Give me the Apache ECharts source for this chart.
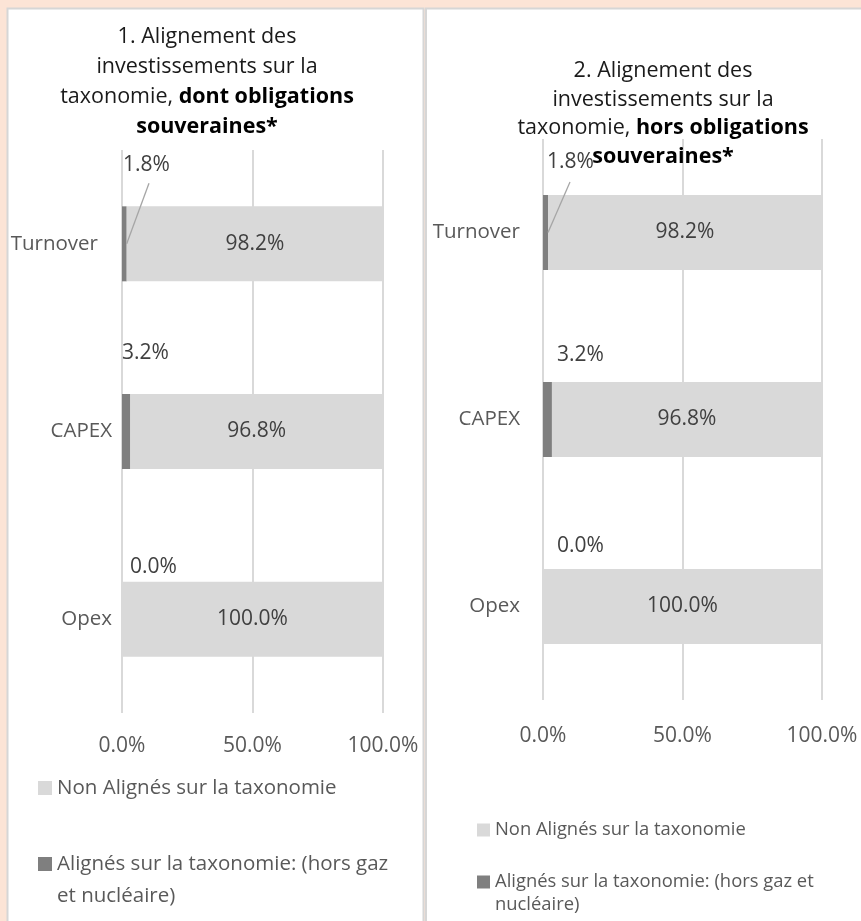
<!DOCTYPE html>
<html>
<head>
<meta charset="utf-8">
<script src="https://cdn.jsdelivr.net/npm/echarts@6/dist/echarts.min.js"></script>
<style>
  html, body { margin: 0; padding: 0; background: #fce4d6; }
  #chart { width: 861px; height: 921px; }
</style>
</head>
<body>
<div id="chart"></div>
<script>
// données
const categories = ['Turnover', 'CAPEX', 'Opex'];
const alignedWithSov = [1.8, 3.2, 0.0];
const notAlignedWithSov = [98.2, 96.8, 100.0];
const alignedExSov = [1.8, 3.2, 0.0];
const notAlignedExSov = [98.2, 96.8, 100.0];
const axisMin = 0, axisMax = 100, axisStep = 50;

const nameNotAligned = 'Non Alignés sur la taxonomie';
const nameAligned = 'Alignés sur la taxonomie: (hors gaz et nucléaire)';
const title1 = '1. Alignement des\ninvestissements sur la\ntaxonomie, {b|dont obligations}\n{b|souveraines*}';
const title2 = '2. Alignement des\ninvestissements sur la\ntaxonomie, {b|hors obligations}\n{b|souveraines*}';

const FONT = '"Open Sans", sans-serif';
const LIGHT = '#d9d9d9', DARK = '#7f7f7f', TXT = '#404040', AX = '#595959';
const BAR_W = 75;

const pct = v => Number(v).toFixed(1) + '%';

// position des étiquettes "alignés" par rapport à la barre
function darkLabelLayout(offsets) {
  return function (p) {
    const r = p.rect, o = offsets[p.dataIndex];
    return { x: r.x + o[0], y: r.y + o[1], align: 'left', verticalAlign: 'middle' };
  };
}

function xAxisFor(gridIndex, margin) {
  return {
    gridIndex, type: 'value', min: axisMin, max: axisMax, interval: axisStep,
    axisLine: { show: false }, axisTick: { show: false },
    axisLabel: { formatter: pct, color: AX, fontFamily: FONT, fontSize: 21, margin },
    splitLine: { show: true, lineStyle: { color: LIGHT, width: 2 } }
  };
}

function yAxisFor(gridIndex, margin, turnoverShift) {
  return {
    gridIndex, type: 'category', inverse: true, data: categories,
    axisLine: { show: false }, axisTick: { show: false },
    axisLabel: {
      color: AX, fontFamily: FONT, fontSize: 20.5, margin,
      formatter: v => v === 'Turnover' ? '{s|' + v + '}' : v,
      rich: { s: { color: AX, fontFamily: FONT, fontSize: 20.5, padding: [0, turnoverShift, 0, 0] } }
    }
  };
}

// trait de rappel entre l'étiquette et la barre Turnover
function leaderSeries(idx, aligned, start) {
  return {
    type: 'custom', xAxisIndex: idx, yAxisIndex: idx, z: 5, silent: true,
    data: [[aligned[0], 0]],
    encode: { x: 0, y: 1 },
    renderItem: function (params, api) {
      const end = api.coord([api.value(0), api.value(1)]);
      const base = api.coord([axisMin, api.value(1)]);
      return {
        type: 'line',
        shape: { x1: base[0] + start[0], y1: end[1] - BAR_W / 2 + start[1], x2: end[0], y2: end[1] },
        style: { stroke: '#a6a6a6', lineWidth: 1.3 }
      };
    }
  };
}

function seriesFor(idx, aligned, notAligned, offsets, lineStart) {
  return [
    {
      name: nameAligned, type: 'bar', stack: 's' + idx, xAxisIndex: idx, yAxisIndex: idx,
      barWidth: BAR_W, data: aligned, itemStyle: { color: DARK },
      label: { show: true, position: 'top', formatter: p => pct(p.value), color: TXT, fontFamily: FONT, fontSize: 21 },
      labelLayout: darkLabelLayout(offsets)
    },
    {
      name: nameNotAligned, type: 'bar', stack: 's' + idx, xAxisIndex: idx, yAxisIndex: idx,
      barWidth: BAR_W, data: notAligned, itemStyle: { color: LIGHT },
      label: { show: true, position: 'inside', formatter: p => pct(p.value), color: TXT, fontFamily: FONT, fontSize: 21 }
    },
    leaderSeries(idx, aligned, lineStart)
  ];
}

// une légende par entrée; pour le texte sur deux lignes, une ligne vide en tête
// garde l'icône en face de la première ligne
function legendFor(name, left, top, fontSize, icon, lh, wordsOnFirstLine) {
  const leg = {
    data: [name], left, top, padding: 0, orient: 'vertical',
    icon: 'rect', itemWidth: icon, itemHeight: icon,
    textStyle: { color: AX, fontFamily: FONT, fontSize, lineHeight: lh }
  };
  if (wordsOnFirstLine) {
    leg.formatter = n => {
      const w = n.split(' ');
      return '\n' + w.slice(0, wordsOnFirstLine).join(' ') + '\n' + w.slice(wordsOnFirstLine).join(' ');
    };
  }
  return leg;
}

const chart = echarts.init(document.getElementById('chart'));
chart.setOption({
  animation: false,
  backgroundColor: '#fce4d6',
  graphic: [
    { type: 'rect', z: -10, silent: true, shape: { x: 7.5, y: 8.5, width: 416, height: 930 },
      style: { fill: '#fff', stroke: '#d6d6d6', lineWidth: 2 } },
    { type: 'rect', z: -10, silent: true, shape: { x: 426, y: 8.5, width: 450, height: 930 },
      style: { fill: '#fff', stroke: '#d6d6d6', lineWidth: 2 } },
    { type: 'text', z: 50, x: 207, y: 22.5,
      style: { text: title1, fill: '#1a1a1a', font: '21.5px ' + FONT, align: 'center', verticalAlign: 'top', lineHeight: 29.7,
        rich: { b: { fontWeight: 'bold', fontSize: 21.5, fontFamily: FONT, fill: '#000', lineHeight: 29.7 } } } },
    { type: 'text', z: 50, x: 663, y: 57,
      style: { text: title2, fill: '#1a1a1a', font: '21.5px ' + FONT, align: 'center', verticalAlign: 'top', lineHeight: 28.5,
        rich: { b: { fontWeight: 'bold', fontSize: 21.5, fontFamily: FONT, fill: '#000', lineHeight: 28.5 } } } }
  ],
  legend: [
    legendFor(nameNotAligned, 38, 775, 20.5, 14, 26),
    legendFor(nameAligned, 38, 816, 20.5, 14, 32, 6),
    legendFor(nameNotAligned, 477, 818, 18.4, 13, 24),
    legendFor(nameAligned, 477, 847.5, 18.4, 13, 23, 7)
  ],
  grid: [
    { left: 122, right: 478, top: 150, bottom: 208 },
    { left: 543, right: 39, top: 139, bottom: 221 }
  ],
  xAxis: [xAxisFor(0, 23), xAxisFor(1, 26)],
  yAxis: [yAxisFor(0, 10, 14), yAxisFor(1, 23, 0)],
  series: [
    ...seriesFor(0, alignedWithSov, notAlignedWithSov, [[1, -41], [0, -41], [8, -15]], [27, -23]),
    ...seriesFor(1, alignedExSov, notAlignedExSov, [[4, -33], [14, -27], [14, -23]], [27, -13])
  ]
});
</script>
</body>
</html>
